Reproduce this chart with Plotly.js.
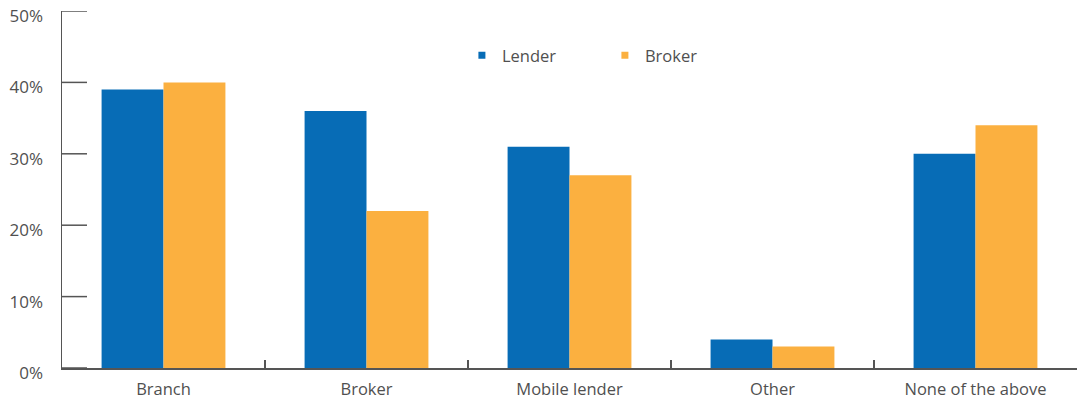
<!DOCTYPE html>
<html><head><meta charset="utf-8">
<script src="https://cdn.plot.ly/plotly-3.0.1.min.js"></script>
<style>body{margin:0;background:#fff}#c{width:1084px;height:400px}</style>
</head><body><div id="c"></div>
<script>
const categories = ["Branch", "Broker", "Mobile lender", "Other", "None of the above"];
const lender = [0.39, 0.36, 0.31, 0.04, 0.30];
const broker = [0.40, 0.22, 0.27, 0.03, 0.34];
const yTicks = [0, 0.1, 0.2, 0.3, 0.4, 0.5];
const yTickLabels = ["0%", "10%", "20%", "30%", "40%", "50%"];
const blue = "#076cb6", orange = "#fbb040", grey = "#555555", txt = "#505050";

const data = [
  {type: "bar", name: "Lender", x: categories, y: lender, marker: {color: blue}, showlegend: false},
  {type: "bar", name: "Broker", x: categories, y: broker, marker: {color: orange}, showlegend: false},
  {type: "scatter", mode: "markers", name: "Lender", x: [null], y: [null], marker: {symbol: "square", size: 7, color: blue}},
  {type: "scatter", mode: "markers", name: "Broker", x: [null], y: [null], marker: {symbol: "square", size: 7, color: orange}}
];
const yTickShapes = yTicks.map(v => ({
  type: "line", xref: "paper", xsizemode: "pixel", xanchor: 0, x0: 0, x1: 25,
  yref: "y", y0: v, y1: v, line: {color: grey, width: 1.5}, layer: "above"
}));
const layout = {
  width: 1084, height: 400,
  margin: {l: 62, r: 7, t: 11, b: 32},
  paper_bgcolor: "#fff", plot_bgcolor: "#fff",
  font: {family: "'Open Sans', Lato, sans-serif", size: 17, color: txt},
  barmode: "group", bargap: 0.39, bargroupgap: 0,
  xaxis: {type: "category", showgrid: false, zeroline: false, showline: true, linecolor: grey, linewidth: 1.5,
          ticks: "inside", tickson: "boundaries", ticklen: 8, tickcolor: grey, tickwidth: 1.5,
          ticklabelstandoff: 6, tickfont: {size: 16.5, color: txt}, fixedrange: true},
  yaxis: {range: [0, 0.5], tickvals: yTicks, ticktext: yTickLabels, showgrid: false, zeroline: false,
          showline: true, linecolor: grey, linewidth: 1.5, ticks: "",
          ticklabelstandoff: 14, ticklabelshift: 5, ticklabeloverflow: "allow",
          tickfont: {size: 17, color: txt}, fixedrange: true},
  shapes: yTickShapes,
  legend: {orientation: "h", x: 0.394, xanchor: "left", y: 0.875, yanchor: "middle",
           entrywidth: 98, entrywidthmode: "pixels", font: {size: 16.5, color: txt}, bgcolor: "rgba(0,0,0,0)"},
  showlegend: true
};
Plotly.newPlot("c", data, layout, {displayModeBar: false, staticPlot: true});
</script></body></html>
